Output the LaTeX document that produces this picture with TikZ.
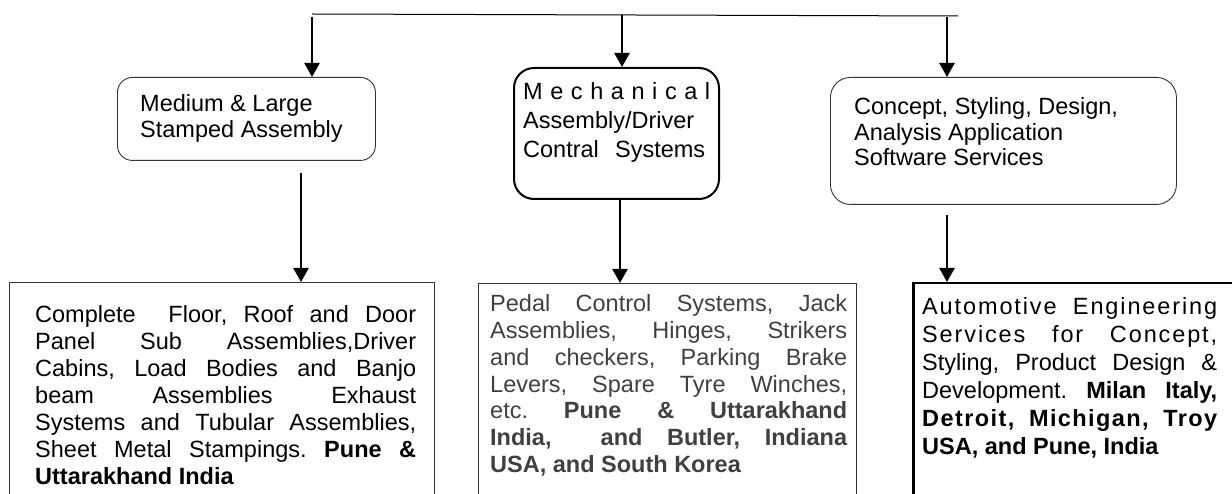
\documentclass[tikz,border=0pt]{standalone}
\usepackage{fontspec}
\setmainfont{Liberation Sans}
\usetikzlibrary{arrows.meta,calc}
\definecolor{txtgray}{HTML}{404040}
\definecolor{boxgray}{HTML}{333333}
\tikzset{
  conn/.style={line width=2.4pt,-{Triangle[width=15pt,length=14pt]}},
  thinround/.style={draw=boxgray,line width=0.9pt,anchor=north west,inner sep=0pt},
  thickround/.style={draw=black,line width=2pt,anchor=north west,inner sep=0pt},
  plainbox/.style={draw=boxgray,line width=0.9pt,anchor=north west,inner sep=0pt},
  heavybox/.style={draw=black,line width=2.5pt,anchor=north west,inner sep=0pt},
  txt/.style={anchor=base west,inner sep=0pt,font=\fontsize{23.5}{27}\selectfont\frenchspacing}
}
\begin{document}
\begin{tikzpicture}[x=1pt,y=-1pt]
\useasboundingbox (0,0) rectangle (1232,494);
\clip (0,0) rectangle (1232,494);

% boxes
\node[thinround,rounded corners=15pt,minimum width=258pt,minimum height=83pt] (b1) at (117,77) {};
\node[thickround,rounded corners=20pt,minimum width=205pt,minimum height=131pt] (b2) at (513,67) {};
\node[thinround,rounded corners=20pt,minimum width=346pt,minimum height=127pt] (b3) at (830,77) {};
\node[plainbox,minimum width=425pt,minimum height=240pt] (b4) at (9,282) {};
\node[plainbox,minimum width=378pt,minimum height=240pt] (b5) at (478,283) {};
\node[heavybox,minimum width=340pt,minimum height=240pt] (b6) at (912,282) {};

% texts
\node[txt] (t1) at ($(b1.north west)+(23,35)$) {\vtop{\baselineskip=26pt\lineskiplimit=-100pt
  \hbox{Medium \& Large}\hbox{Stamped Assembly}}};
\node[txt] (t2) at ($(b2.north west)+(10,33)$) {\vtop{\baselineskip=29pt\lineskiplimit=-100pt
  \hbox to 187pt{M\hfil e\hfil c\hfil h\hfil a\hfil n\hfil i\hfil c\hfil a\hfil l}
  \hbox{Assembly/Driver}
  \hbox to 182pt{Contral Systems}}};
\node[txt] (t3) at ($(b3.north west)+(24,38)$) {\vtop{\baselineskip=25.5pt\lineskiplimit=-100pt
  \hbox{Concept, Styling, Design,}\hbox{Analysis Application}\hbox{Software Services}}};
\node[txt] (t4) at ($(b4.north west)+(26,41)$) {\vtop{\baselineskip=27pt\lineskiplimit=-100pt
  \hbox to 381pt{Complete\ \ Floor, Roof and Door}
  \hbox to 381pt{Panel Sub Assemblies,Driver}
  \hbox to 381pt{Cabins, Load Bodies and Banjo}
  \hbox to 381pt{beam Assemblies Exhaust}
  \hbox to 381pt{Systems and Tubular Assemblies,}
  \hbox to 381pt{Sheet Metal Stampings. \textbf{Pune \&}}
  \hbox{\textbf{Uttarakhand India}}}};
\node[txt,text=txtgray] (t5) at ($(b5.north west)+(12,29)$) {\vtop{\baselineskip=26.7pt\lineskiplimit=-100pt
  \hbox to 357pt{Pedal Control Systems, Jack}
  \hbox to 357pt{Assemblies, Hinges, Strikers}
  \hbox to 357pt{and checkers, Parking Brake}
  \hbox to 357pt{Levers, Spare Tyre Winches,}
  \hbox to 357pt{etc. \textbf{Pune \& Uttarakhand}}
  \hbox to 357pt{\textbf{India,\ \ and Butler, Indiana}}
  \hbox{\textbf{USA, and South Korea}}}};
\node[txt] (t6) at ($(b6.north west)+(10,33)$) {\vtop{\baselineskip=28pt\lineskiplimit=-100pt
  \hbox to 295pt{\addfontfeature{LetterSpace=8}Automotive Engineering}
  \hbox to 295pt{\addfontfeature{LetterSpace=8}Services for Concept,}
  \hbox to 295pt{Styling, Product Design \&}
  \hbox to 295pt{Development. \textbf{Milan Italy,}}
  \hbox to 295pt{\bfseries\addfontfeature{LetterSpace=6}Detroit, Michigan, Troy}
  \hbox{\textbf{USA, and Pune, India}}}};

% top distribution line
\coordinate (L) at (312,14);
\coordinate (R) at (958,16);
\draw[line width=1pt] (L) -- (R);

% arrows
\coordinate (a1) at (312,17);
\coordinate (a2) at (622,15);
\coordinate (a3) at (947,17);
\coordinate (a4) at (301,173);
\coordinate (a5) at (620,0);
\coordinate (a6) at (947,215);
\draw[conn] (a1) -- (a1 |- b1.north);
\draw[conn] (a2) -- (a2 |- b2.north);
\draw[conn] (a3) -- (a3 |- b3.north);
\draw[conn] (a4) -- (a4 |- b4.north);
\draw[conn] (a5 |- b2.south) -- (a5 |- b5.north);
\draw[conn] (a6) -- (a6 |- b6.north);
\end{tikzpicture}
\end{document}
